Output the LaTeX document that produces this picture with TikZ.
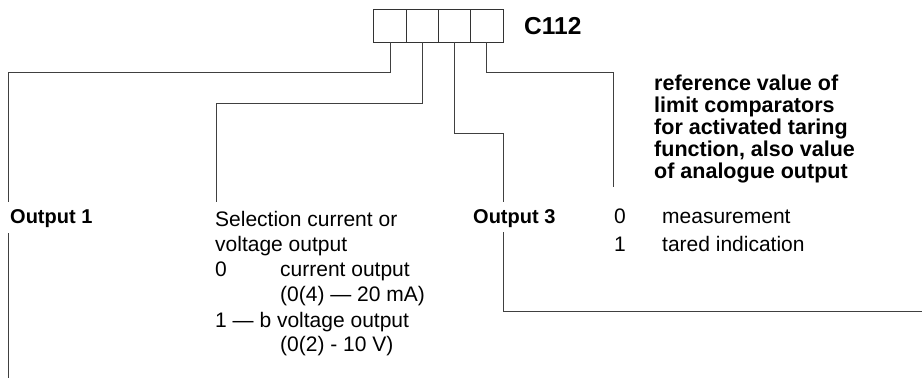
\documentclass[tikz,border=0pt]{standalone}
\usepackage{fontspec}
\setmainfont{Liberation Sans}
\begin{document}
\begin{tikzpicture}[x=1pt,y=-1pt,
  cell/.style={draw=black!80,line width=1pt,minimum width=32.25pt,minimum height=33pt,inner sep=0pt,outer sep=0pt},
  lead/.style={draw=black!75,line width=1pt},
  lbl/.style={anchor=base west,inner sep=0pt,font=\fontsize{20}{21}\selectfont\bfseries},
  txt/.style={anchor=base west,inner sep=0pt,font=\fontsize{21}{22}\selectfont},
  btxt/.style={inner sep=0pt,font=\fontsize{21.5}{22}\selectfont\bfseries,align=left}]
\useasboundingbox (0,0) rectangle (922,378);
% code boxes
\node[cell] (c1) at (390.1,25.5) {};
\node[cell] (c2) at (422.4,25.5) {};
\node[cell] (c3) at (454.6,25.5) {};
\node[cell] (c4) at (486.9,25.5) {};
\node[anchor=west,inner sep=0pt,font=\fontsize{24.5}{25}\selectfont\bfseries] (title) at (524,26) {C112};
% labels
\node[lbl] (out1) at (10,223) {Output 1};
\node[lbl] (out3) at (473,223) {Output 3};
\node[txt] (s1) at (215,226.5) {Selection current or};
\node[txt] (s2) at (215,251) {voltage output};
\node[txt] (s3) at (215,276.5) {\makebox[65pt][l]{0}current output};
\node[txt] (s4) at (280,301) {(0(4) \textemdash{} 20 mA)};
\node[txt] (s5) at (215,327) {1 \textemdash{} b voltage output};
\node[txt] (s6) at (280,351.5) {(0(2) - 10 V)};
\node[btxt,anchor=north west] (ref) at (654,74.5) {reference value of\\limit comparators\\for activated taring\\function, also value\\of analogue output};
\node[txt] (m1) at (614,223) {\makebox[48pt][l]{0}measurement};
\node[txt] (m2) at (614,251.5) {\makebox[48pt][l]{1}tared indication};
% connectors
\coordinate (a1) at (8,202);
\coordinate (a2) at (8,233);
\coordinate (a3) at (8,378);
\draw[lead] (c1.south) |- (a1 |- 0,72) -- (a1);
\draw[lead] (a2) -- (a3);
\coordinate (b1) at (216,202);
\draw[lead] (c2.south) |- (b1 |- 0,103) -- (b1);
\coordinate (d1) at (503,202);
\coordinate (d2) at (503,232);
\coordinate (d3) at (922,311);
\draw[lead] (c3.south) |- (d1 |- 0,133) -- (d1);
\draw[lead] (d2) |- (d3);
\coordinate (e1) at (613,187);
\draw[lead] (c4.south) |- (e1 |- 0,72) -- (e1);
\end{tikzpicture}
\end{document}
